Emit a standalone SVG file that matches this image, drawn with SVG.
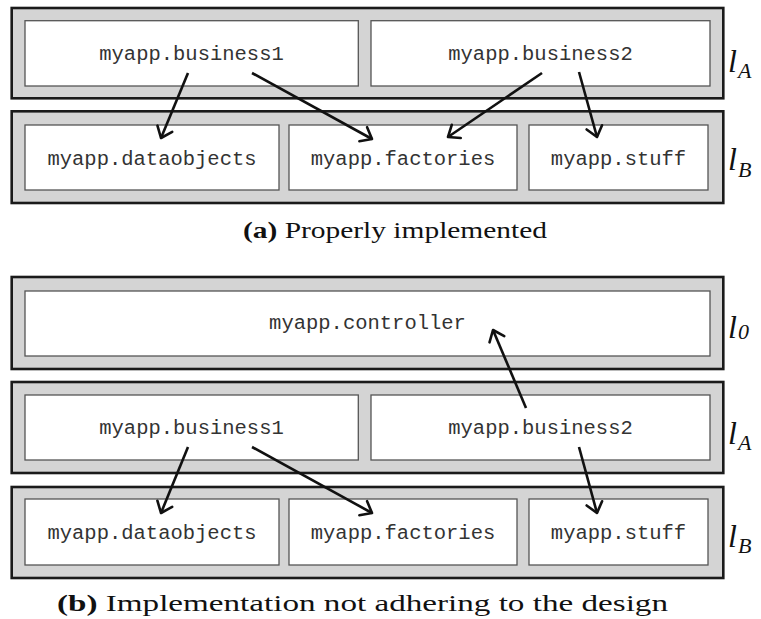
<svg xmlns="http://www.w3.org/2000/svg" width="761" height="619" viewBox="0 0 761 619">
<style>
.layer{fill:#d4d4d4;stroke:#1a1a1a;stroke-width:2.6}
.box{fill:#ffffff;stroke:#555555;stroke-width:1.3}
.mono{font-family:"Liberation Mono","DejaVu Sans Mono",monospace;font-size:20.5px;fill:#333333;text-anchor:middle}
.lbl{font-family:"Liberation Serif","DejaVu Serif",serif;font-style:italic;fill:#111}
.cap{font-family:"Liberation Serif","DejaVu Serif",serif;font-size:24px;fill:#111}
.arr{stroke:#111;stroke-width:2.6;fill:none;marker-end:url(#ah)}
</style>
<defs>
<marker id="ah" markerUnits="userSpaceOnUse" markerWidth="20" markerHeight="20" refX="0" refY="0" viewBox="-14 -10 16 20" orient="auto" overflow="visible">
<path d="M-10,-8 L0,0 L-10,8" fill="none" stroke="#111" stroke-width="2.6" stroke-linecap="round" stroke-linejoin="round"/>
</marker>
</defs>
<rect width="761" height="619" fill="#ffffff"/>

<!-- Panel (a) -->
<g id="a-layerA">
<rect class="layer" x="11.7" y="8" width="711.6" height="90.3"/>
<text class="lbl" x="728" y="72" font-size="32">l</text><text class="lbl" x="738" y="78" font-size="22">A</text>
</g>
<g id="a-business1"><rect class="box" x="25" y="20.7" width="333.3" height="65.3"/><text class="mono" x="191.5" y="60">myapp.business1</text></g>
<g id="a-business2"><rect class="box" x="371" y="20.7" width="339" height="65.3"/><text class="mono" x="540.5" y="60">myapp.business2</text></g>
<g id="a-layerB">
<rect class="layer" x="11.7" y="111.3" width="711.6" height="91.7"/>
<text class="lbl" x="728" y="170" font-size="32">l</text><text class="lbl" x="738" y="177" font-size="22">B</text>
</g>
<g id="a-dataobjects"><rect class="box" x="25" y="125" width="254" height="65"/><text class="mono" x="152" y="164.5">myapp.dataobjects</text></g>
<g id="a-factories"><rect class="box" x="289" y="125" width="228" height="65"/><text class="mono" x="403" y="164.5">myapp.factories</text></g>
<g id="a-stuff"><rect class="box" x="529" y="125" width="179" height="65"/><text class="mono" x="618.5" y="164.5">myapp.stuff</text></g>
<g id="a-connectors">
<line class="arr" x1="188" y1="73" x2="161" y2="138"/>
<line class="arr" x1="252" y1="73" x2="372" y2="139"/>
<line class="arr" x1="542" y1="73" x2="448" y2="137"/>
<line class="arr" x1="579" y1="72" x2="597" y2="137"/>
</g>
<text class="cap" x="243" y="238" textLength="304" lengthAdjust="spacingAndGlyphs"><tspan font-weight="bold">(a)</tspan> Properly implemented</text>

<!-- Panel (b) -->
<g id="b-layer0">
<rect class="layer" x="11.7" y="277" width="711.6" height="92"/>
<text class="lbl" x="728" y="338" font-size="32">l</text><text class="lbl" x="738" y="339" font-size="22">0</text>
</g>
<g id="b-controller"><rect class="box" x="25" y="291" width="685" height="65"/><text class="mono" x="367.5" y="329">myapp.controller</text></g>
<g id="b-layerA">
<rect class="layer" x="11.7" y="382" width="711.6" height="91"/>
<text class="lbl" x="728" y="444" font-size="32">l</text><text class="lbl" x="738" y="450" font-size="22">A</text>
</g>
<g id="b-business1"><rect class="box" x="25" y="395" width="333.3" height="65"/><text class="mono" x="191.5" y="434">myapp.business1</text></g>
<g id="b-business2"><rect class="box" x="371" y="395" width="339" height="65"/><text class="mono" x="540.5" y="434">myapp.business2</text></g>
<g id="b-layerB">
<rect class="layer" x="11.7" y="487" width="711.6" height="91"/>
<text class="lbl" x="728" y="547" font-size="32">l</text><text class="lbl" x="738" y="553" font-size="22">B</text>
</g>
<g id="b-dataobjects"><rect class="box" x="25" y="499" width="254" height="66"/><text class="mono" x="152" y="538.5">myapp.dataobjects</text></g>
<g id="b-factories"><rect class="box" x="289" y="499" width="228" height="66"/><text class="mono" x="403" y="538.5">myapp.factories</text></g>
<g id="b-stuff"><rect class="box" x="529" y="499" width="179" height="66"/><text class="mono" x="618.5" y="538.5">myapp.stuff</text></g>
<g id="b-connectors">
<line class="arr" x1="188" y1="447" x2="161" y2="513"/>
<line class="arr" x1="252" y1="447" x2="372" y2="513"/>
<line class="arr" x1="526" y1="408" x2="493" y2="330"/>
<line class="arr" x1="579" y1="447" x2="597" y2="513"/>
</g>
<text class="cap" x="57" y="611" textLength="611" lengthAdjust="spacingAndGlyphs"><tspan font-weight="bold">(b)</tspan> Implementation not adhering to the design</text>
</svg>
